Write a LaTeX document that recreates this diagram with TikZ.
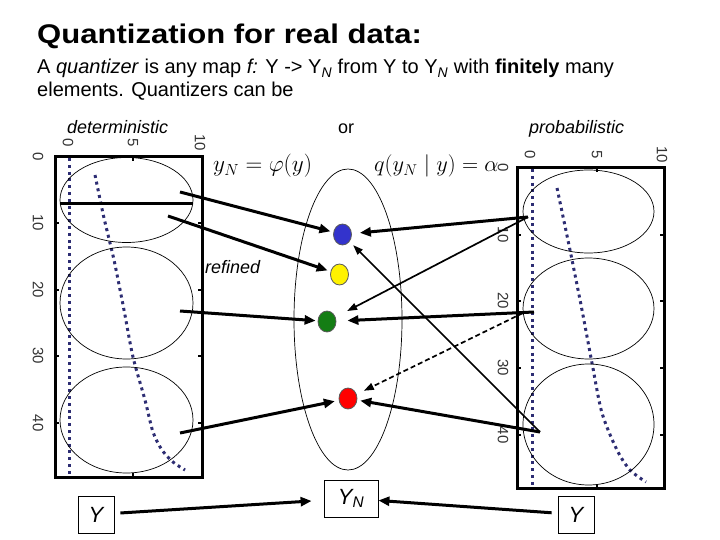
\documentclass[tikz,border=0pt]{standalone}
\usepackage{fontspec}
\setmainfont{Liberation Sans}
\usetikzlibrary{shapes.geometric,arrows.meta}

\definecolor{navy}{RGB}{45,45,115}
\definecolor{dotblue}{RGB}{51,51,204}
\definecolor{dotgreen}{RGB}{20,125,20}

\tikzset{
  frame/.style={line width=3pt},
  oval/.style={line width=0.7pt},
  trace/.style={navy, line width=3pt, dash pattern=on 3pt off 3.8pt},
  tickmark/.style={line width=2pt},
  ticklabel/.style={font=\fontsize{15}{15}\selectfont, text=black!80, rotate=-90, inner sep=0pt},
  dot/.style={ellipse, draw=black!65, line width=0.8pt, minimum width=18pt, minimum height=21pt, inner sep=0pt},
  ybox/.style={draw, line width=0.8pt, font=\itshape\fontsize{22}{22}\selectfont, minimum width=36pt, minimum height=37pt, inner sep=0pt},
  link/.style={line width=3pt, -{Triangle[length=11pt, width=9pt]}},
  thinlink/.style={line width=1.7pt, -{Triangle[length=10pt, width=7pt]}},
  words/.style={anchor=base west, inner sep=0pt, font=\fontsize{20}{24}\selectfont},
  tag/.style={anchor=base west, inner sep=0pt, font=\itshape\fontsize{18}{20}\selectfont},
  formula/.style={anchor=base west, inner sep=0pt, font=\fontsize{20.74}{24}\selectfont}
}

\begin{document}
\begin{tikzpicture}[x=1pt, y=-1pt]
\useasboundingbox (0,0) rectangle (720,540);

% heading
\node[anchor=base west, inner sep=0pt] (title) at (37,44)
  {\scalebox{1.15}[1]{\fontsize{27}{30}\selectfont\bfseries Quantization for real data:}};
\node[words] (line1) at (37,74) {A \textit{quantizer} is any map \textit{f:} Y -> Y\textsubscript{\textit{N}} from Y to Y\textsubscript{\textit{N}} with \textbf{finitely} many};
\node[words] (line2) at (37,97) {elements. Quantizers can be};

\node[tag] (det) at (67,134) {deterministic};
\node[tag, font=\fontsize{18}{20}\selectfont] (or) at (338,134) {or};
\node[tag] (prob) at (529,134) {probabilistic};
\node[tag] (refined) at (205,273) {refined};

\node[formula] (phi) at (213,172) {\scalebox{1.12}{$y_N=\varphi(y)$}};
\node[formula] (q) at (374,172) {\scalebox{1.08}{$q(y_N\mid y)=\alpha$}};

% left plot
\draw[frame] (55,157) rectangle (202,477);
\foreach \ty in {223,290,356,423} {
  \draw[tickmark] (55,\ty) -- ++(4,0);
  \draw[tickmark] (202,\ty) -- ++(-4,0);
}
\draw[tickmark] (133,157) -- ++(0,4);
\draw[tickmark] (133,477) -- ++(0,-4);
\foreach \v/\tx in {0/68,5/133,10/200}
  \node[ticklabel] at (\tx,143) {\v};
\foreach \v/\ty in {0/157,10/223,20/290,30/356,40/423}
  \node[ticklabel] at (38,\ty) {\v};
\draw[trace] (69,158) -- (69,476);
\draw[trace] plot[smooth] coordinates {(95,175) (104,218) (114,260) (124,310) (133,357) (145,400) (153,432) (162,450) (173,462) (185,470)};
\draw[oval] (126.5,200) ellipse [x radius=66.5, y radius=42.5];
\draw[oval] (126.5,303) ellipse [x radius=66.5, y radius=56];
\draw[oval] (126.5,420) ellipse [x radius=66.5, y radius=53];
\draw[frame] (60,204) -- (193,204);

% right plot
\draw[frame] (517,168) rectangle (664,488);
\foreach \ty in {235,301,368,435} {
  \draw[tickmark] (517,\ty) -- ++(4,0);
  \draw[tickmark] (664,\ty) -- ++(-4,0);
}
\draw[tickmark] (597,168) -- ++(0,4);
\draw[tickmark] (597,488) -- ++(0,-4);
\foreach \v/\tx in {0/530,5/597,10/662}
  \node[ticklabel] at (\tx,155) {\v};
\foreach \v/\ty in {0/168,10/235,20/301,30/368,40/435}
  \node[ticklabel] at (503,\ty) {\v};
\draw[trace] (532,169) -- (532,487);
\draw[trace] plot[smooth] coordinates {(557,188) (570,250) (582,310) (592,363) (602,413) (617,450) (630,470) (646,482)};
\draw[oval] (588.5,211.5) ellipse [x radius=65.5, y radius=41.5];
\draw[oval] (588.5,308.5) ellipse [x radius=65.5, y radius=50.5];
\draw[oval] (588.5,424.5) ellipse [x radius=65.5, y radius=60.5];

% codebook
\draw[oval] (348,319.5) ellipse [x radius=54, y radius=150.5];
\node[dot, fill=dotblue] (blue) at (342.5,234.5) {};
\node[dot, fill=yellow] (yellow) at (339.5,274.5) {};
\node[dot, fill=dotgreen] (green) at (327,321.5) {};
\node[dot, fill=red] (red) at (348,398.5) {};

\node[ybox] (yleft) at (96,514.5) {Y};
\node[ybox, minimum width=54pt] (ycode) at (351,498.5) {Y\textsubscript{N}};
\node[ybox] (yright) at (576,514.5) {Y};

% start points inside the cells
\coordinate (l1) at (180,192);
\coordinate (l2) at (168,216);
\coordinate (l3) at (180,311);
\coordinate (l4) at (180,433);
\coordinate (r1) at (528,217);
\coordinate (r2) at (534,312);
\coordinate (r2b) at (523,313);
\coordinate (r3) at (540,432);

\draw[link, shorten >=3pt] (l1) -- (blue);
\draw[link, shorten >=3pt] (l2) -- (yellow);
\draw[link, shorten >=2pt] (l3) -- (green);
\draw[link, shorten >=4pt] (l4) -- (red);

\draw[link, shorten >=8pt] (r1) -- (blue);
\draw[thinlink, shorten >=13pt] (r1) -- (green);
\draw[link, shorten >=11pt] (r2) -- (green);
\draw[thinlink, dash pattern=on 5pt off 3pt, shorten >=8pt] (r2b) -- (red);
\draw[thinlink, shorten >=5pt] (r3) -- (blue);
\draw[link, shorten >=3pt] (r3) -- (red);

\draw[link, shorten <=6pt, shorten >=12pt] (yleft) -- (ycode);
\draw[link, shorten <=6pt] (yright) -- (ycode);
\end{tikzpicture}
\end{document}
